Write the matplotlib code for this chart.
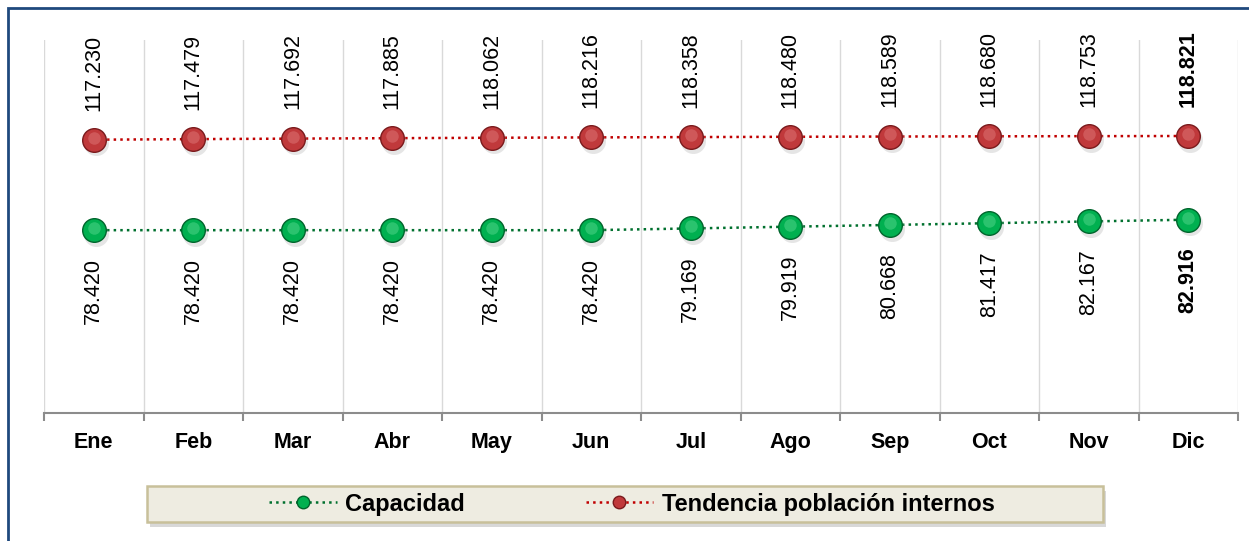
import matplotlib.pyplot as plt
from matplotlib.lines import Line2D
from matplotlib.patches import Rectangle
import numpy as np

# Data
meses = ['Ene', 'Feb', 'Mar', 'Abr', 'May', 'Jun', 'Jul', 'Ago', 'Sep', 'Oct', 'Nov', 'Dic']
capacidad = [78.420, 78.420, 78.420, 78.420, 78.420, 78.420, 79.169, 79.919, 80.668, 81.417, 82.167, 82.916]
tendencia = [117.230, 117.479, 117.692, 117.885, 118.062, 118.216, 118.358, 118.480, 118.589, 118.680, 118.753, 118.821]

plt.rcParams['font.family'] = ['Liberation Sans', 'DejaVu Sans']

W, H = 1249, 541
fig = plt.figure(figsize=(W / 100, H / 100), dpi=100)
ax = fig.add_axes([44 / W, 1 - 413 / H, (1238 - 44) / W, (413 - 40) / H])

x = np.arange(len(meses))


def sphere_line(vals, line_color, face, edge, hi):
    vals = np.array(vals)
    ax.plot(x, vals, color=line_color, linestyle=':', linewidth=1.8, zorder=3)
    # soft shadow
    ax.plot(x + 0.02, vals - 1.6, linestyle='none', marker='o', markersize=18,
            markerfacecolor='#9A9A9A', markeredgecolor='none', alpha=0.25, zorder=3)
    ax.plot(x, vals, linestyle='none', marker='o', markersize=17,
            markerfacecolor=face, markeredgecolor=edge, markeredgewidth=1.0, zorder=4)
    # highlight
    ax.plot(x, vals + 0.9, linestyle='none', marker='o', markersize=9,
            markerfacecolor=hi, markeredgecolor='none', alpha=0.3, zorder=5)


sphere_line(tendencia, '#C00000', '#C0393B', '#7A1A1C', '#F2A0A0')
sphere_line(capacidad, '#00702E', '#00B050', '#00652C', '#8CF0B4')

for i in range(len(meses)):
    w = 'bold' if i == len(meses) - 1 else 'normal'
    ax.annotate(f'{tendencia[i]:.3f}', (x[i], tendencia[i]), xytext=(0, 21),
                textcoords='offset points', rotation=90, ha='center', va='bottom',
                fontsize=15.5, fontweight=w)
    ax.annotate(f'{capacidad[i]:.3f}', (x[i], capacidad[i]), xytext=(0, -20),
                textcoords='offset points', rotation=90, ha='center', va='top',
                fontsize=15.5, fontweight=w)

ax.set_xlim(-0.5, len(meses) - 0.5)
ax.set_ylim(0, 160)
ax.set_yticks([])
ax.set_xticks(x)
ax.set_xticklabels(meses, fontsize=15.5, fontweight='bold')
ax.tick_params(axis='x', which='major', length=0, pad=14)
ax.set_xticks(np.arange(-0.5, len(meses), 1), minor=True)
ax.tick_params(axis='x', which='minor', length=6, width=1.5, color='#8C8C8C')
ax.grid(axis='x', which='minor', color='#D9D9D9', linewidth=1)
for s in ['top', 'right', 'left']:
    ax.spines[s].set_visible(False)
ax.spines['bottom'].set_color('#8C8C8C')
ax.spines['bottom'].set_linewidth(1.5)

# Legend box (drawn by hand) with shadow
bx, by, bw, bh = 147, 486, 956, 36
fig.patches.append(Rectangle(((bx + 3) / W, 1 - (by + bh + 5) / H), bw / W, bh / H,
                             transform=fig.transFigure, facecolor='#7F7F7F',
                             edgecolor='none', alpha=0.3, zorder=1))
fig.patches.append(Rectangle((bx / W, 1 - (by + bh) / H), bw / W, bh / H,
                             transform=fig.transFigure, facecolor='#EEECE1',
                             edgecolor='#C8C09A', linewidth=1.8, zorder=2))

handles = [
    Line2D([0], [0], color='#00702E', linestyle=':', linewidth=1.8, marker='o',
           markersize=9, markerfacecolor='#00B050', markeredgecolor='#00652C'),
    Line2D([0], [0], color='#C00000', linestyle=':', linewidth=1.8, marker='o',
           markersize=9, markerfacecolor='#C0393B', markeredgecolor='#7A1A1C'),
]
leg = fig.legend(handles, ['Capacidad', 'Tendencia población internos'],
                 loc='center', bbox_to_anchor=(632 / W, 1 - 504 / H), ncol=2,
                 prop={'size': 17, 'weight': 'bold'}, frameon=False,
                 handlelength=2.85, columnspacing=5.1, handletextpad=0.38)
leg.set_zorder(5)

# outer border
fig.patches.append(Rectangle((8 / W, -0.2), 1.2, 1.2 - 8 / H, transform=fig.transFigure,
                             fill=False, edgecolor='#1F497D', linewidth=2))

fig.savefig('out.png', dpi=100)
